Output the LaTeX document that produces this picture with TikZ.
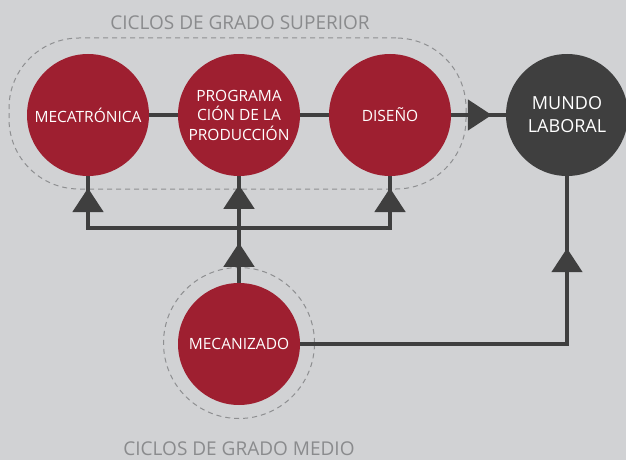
\documentclass[tikz,border=0pt]{standalone}
\usepackage{fontspec}
\setmainfont{Open Sans}
\usetikzlibrary{arrows.meta,decorations.markings}
\definecolor{bg}{HTML}{D1D2D4}
\definecolor{wine}{HTML}{9E1F30}
\definecolor{dark}{HTML}{3F3F3F}
\definecolor{dashc}{HTML}{8E8F91}
\definecolor{titlec}{HTML}{8A8B8D}
\begin{document}
\begin{tikzpicture}[x=1pt,y=-1pt,
  circ/.style={circle,fill=wine,minimum size=122pt,inner sep=0pt,text=white,align=center,font=\fontsize{15.5}{19.5}\selectfont},
  group/.style={draw=dashc,line width=1pt,dash pattern=on 5pt off 4pt},
  titletext/.style={text=titlec,font=\fontsize{19}{23}\selectfont,anchor=base,inner sep=0pt},
  conn/.style={draw=dark,color=dark,line width=4.8pt},
  midarrow/.style={postaction={decorate,decoration={markings,mark=at position #1 with {\arrow{Triangle[length=24pt,width=30pt]}}}}}
]
\fill[bg] (0,0) rectangle (626,460);
\useasboundingbox (0,0) rectangle (626,460);

% groups
\node[group,rounded corners=70pt,minimum width=457pt,minimum height=151pt,inner sep=0pt] (sup) at (237.5,113.5) {};
\node[group,circle,minimum size=151pt,inner sep=0pt] (medring) at (239,343) {};

% titles
\node[titletext] (tsup) at (240,30) {CICLOS DE GRADO SUPERIOR};
\node[titletext] (tmed) at (239,455) {CICLOS DE GRADO MEDIO};

% circles
\node[circ] (mec) at (88,115) {MECATRÓNICA};
\node[circ] (prog) at (239,115) {PROGRAMA\\CIÓN DE LA\\PRODUCCIÓN};
\node[circ] (dis) at (390,115) {DISEÑO};
\node[circ,fill=dark,font=\fontsize{18}{23}\selectfont] (mundo) at (567,115) {MUNDO\\LABORAL};
\node[circ] (mecz) at (239,344) {MECANIZADO};

\coordinate (bl) at (88,228);
\coordinate (br) at (390,228);
\coordinate (corner) at (mundo.south |- mecz.east);

% connectors
\draw[conn] (mec) -- (prog);
\draw[conn] (prog) -- (dis);
\draw[conn,midarrow=-14pt] (dis) -- (mundo);
\draw[conn,midarrow=40pt] (bl) -- (mec.south);
\draw[conn,line cap=rect] (bl) -- (br);
\draw[conn,midarrow=40pt] (br) -- (dis.south);
\draw[conn,midarrow=40pt,midarrow=98pt] (mecz.north) -- (prog.south);
\draw[conn,midarrow=-72pt] (mecz.east) -- (corner) -- (mundo.south);
\end{tikzpicture}
\end{document}
